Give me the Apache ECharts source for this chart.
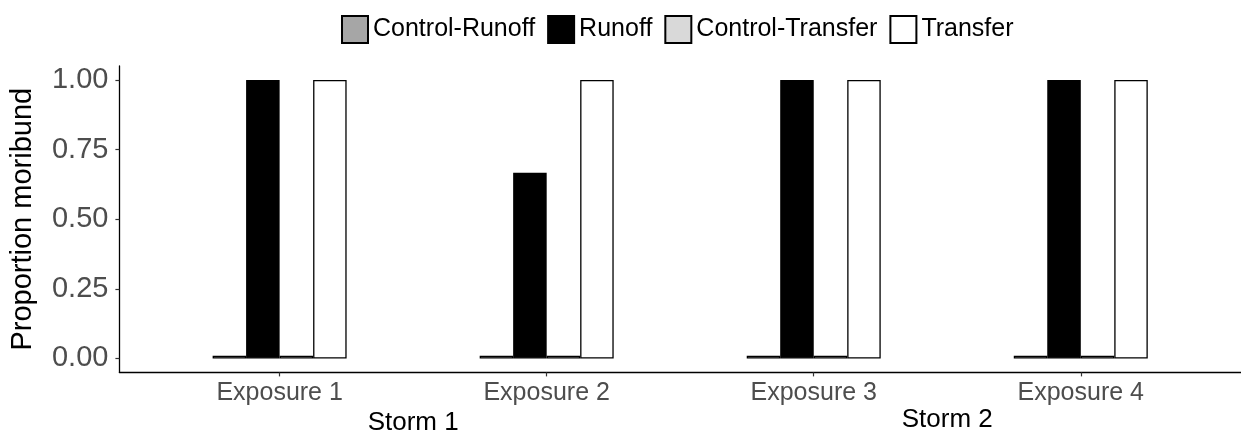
<!DOCTYPE html>
<html>
<head>
<meta charset="utf-8">
<script src="https://cdn.jsdelivr.net/npm/echarts@6/dist/echarts.min.js"></script>
<style>
  html, body { margin: 0; padding: 0; background: #ffffff; }
  #chart { width: 1241px; height: 439px; }
</style>
</head>
<body>
<div id="chart"></div>
<script>
// Exposure categories (placed at x = 1..4) and the storm each pair belongs to
const exposures = ['Exposure 1', 'Exposure 2', 'Exposure 3', 'Exposure 4'];
const storms = ['Storm 1', 'Storm 2'];
const stormCentres = [1.5, 3.5];

// Proportion moribund per treatment
const seriesNames = ['Control-Runoff', 'Runoff', 'Control-Transfer', 'Transfer'];
const controlRunoff   = [0.01, 0.01, 0.01, 0.01];
const runoff          = [1.00, 0.667, 1.00, 1.00];
const controlTransfer = [0.01, 0.01, 0.01, 0.01];
const transfer        = [1.00, 1.00, 1.00, 1.00];

const yTicks = [0, 0.25, 0.5, 0.75, 1.0];

const fills = ['#a6a6a6', '#000000', '#d9d9d9', '#ffffff'];
const values = [controlRunoff, runoff, controlTransfer, transfer];
const FONT = '"Liberation Sans", Arial, sans-serif';

const chart = echarts.init(document.getElementById('chart'), null, { renderer: 'canvas' });

const series = seriesNames.map((name, i) => ({
  name: name,
  type: 'bar',
  barWidth: 33.5,
  barGap: '0%',
  itemStyle: { color: fills[i], borderColor: '#000000', borderWidth: 1.3 },
  emphasis: { disabled: true },
  data: values[i].map((v, k) => [k + 1, v])
}));

chart.setOption({
  animation: false,
  backgroundColor: '#ffffff',
  textStyle: { fontFamily: FONT },
  legend: {
    top: 10,
    left: 336,
    icon: 'rect',
    itemWidth: 26,
    itemHeight: 27,
    itemGap: 12,
    textStyle: { fontSize: 25, color: '#000000', fontFamily: FONT },
    data: seriesNames
  },
  grid: { left: 119.4, right: -3, top: 66, bottom: 66.6, containLabel: false },
  xAxis: {
    type: 'value',
    min: 0.4,
    max: 4.6,
    splitLine: { show: false },
    axisLine: { show: true, onZero: false, lineStyle: { color: '#000000', width: 1.3 } },
    axisTick: { show: true, customValues: [1, 2, 3, 4], length: 4, lineStyle: { color: '#333333', width: 1.2 } },
    axisLabel: {
      customValues: [1, 2, 3, 4],
      formatter: v => exposures[Math.round(v) - 1],
      fontSize: 25,
      color: '#4d4d4d',
      margin: 8,
      fontFamily: FONT
    }
  },
  yAxis: {
    type: 'value',
    min: -0.05,
    max: 1.05,
    name: 'Proportion moribund',
    nameLocation: 'middle',
    nameGap: 82,
    nameTextStyle: { fontSize: 29, color: '#000000', fontFamily: FONT },
    splitLine: { show: false },
    axisLine: { show: true, onZero: false, lineStyle: { color: '#000000', width: 1.3 } },
    axisTick: { show: true, customValues: yTicks, length: 4, lineStyle: { color: '#333333', width: 1.2 } },
    axisLabel: {
      customValues: yTicks,
      formatter: v => v.toFixed(2),
      fontSize: 29,
      color: '#4d4d4d',
      margin: 11,
      fontFamily: FONT
    }
  },
  series: series
});

// Storm labels centred between their two exposures, below the axis labels
const stormY = [423, 420];
chart.setOption({
  graphic: storms.map((s, i) => {
    const px = chart.convertToPixel({ xAxisIndex: 0, yAxisIndex: 0 }, [stormCentres[i], 0]);
    return {
      type: 'text',
      x: px[0],
      y: stormY[i],
      style: {
        text: s,
        fontSize: 26,
        fill: '#000000',
        fontFamily: FONT,
        align: 'center',
        verticalAlign: 'middle'
      }
    };
  })
});
</script>
</body>
</html>
